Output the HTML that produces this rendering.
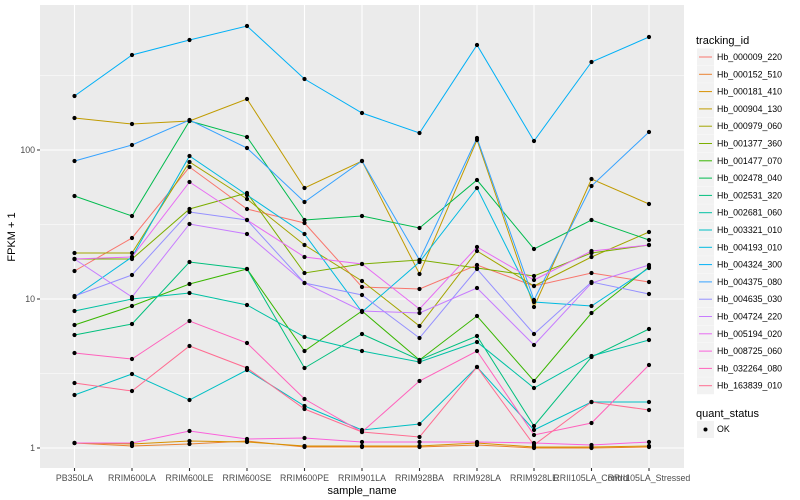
<!DOCTYPE html>
<html><head><meta charset="utf-8"><style>body{margin:0;background:#fff}svg{display:block}text{font-family:"Liberation Sans",sans-serif}</style></head>
<body>
<svg id="s" width="800" height="500" xmlns="http://www.w3.org/2000/svg">
<rect x="40" y="5" width="644" height="463" fill="#ebebeb"/>
<g stroke="#fff" stroke-width="0.5">
<line x1="40" x2="684" y1="373.5" y2="373.5"/><line x1="40" x2="684" y1="224.5" y2="224.5"/><line x1="40" x2="684" y1="75.5" y2="75.5"/>
</g>
<g stroke="#fff" stroke-width="1.1">
<line x1="40" x2="684" y1="448" y2="448"/><line x1="40" x2="684" y1="299" y2="299"/><line x1="40" x2="684" y1="150" y2="150"/>
</g>
<g id="vg" stroke="#fff" stroke-width="1.1"></g>
<g id="lines" fill="none" stroke-width="1"></g>
<g id="pts" fill="#000"></g>
<g font-size="8.8" fill="#4d4d4d" text-anchor="end">
<text x="35" y="451">1</text><text x="35" y="302">10</text><text x="35" y="153">100</text>
</g>
<g stroke="#333" stroke-width="1"><line x1="37" x2="40" y1="448" y2="448"/><line x1="37" x2="40" y1="299" y2="299"/><line x1="37" x2="40" y1="150" y2="150"/></g>
<g id="xl" font-size="8.8" fill="#4d4d4d" text-anchor="middle"></g>
<text x="362" y="494" font-size="11" text-anchor="middle" fill="#000">sample_name</text>
<text transform="translate(15,237) rotate(-90)" font-size="11" text-anchor="middle" fill="#000">FPKM + 1</text>
<text x="696" y="44" font-size="11" fill="#000">tracking_id</text>
<g id="leg" font-size="8.8" fill="#000"></g>
<text x="696" y="417" font-size="11" fill="#000">quant_status</text>
<rect x="697" y="421" width="17" height="17" fill="#f2f2f2"/>
<circle cx="705.5" cy="429.5" r="2" fill="#000"/>
<text x="717" y="432" font-size="8.8" fill="#000">OK</text>
</svg>
<script>
var X=[74.5,132,189.5,247,304.5,362,419.5,477,534,591.5,649];
var labs=["PB350LA","RRIM600LA","RRIM600LE","RRIM600SE","RRIM600PE","RRIM901LA","RRIM928BA","RRIM928LA","RRIM928LE","RRII105LA_Control","RRII105LA_Stressed"];
var S=[
["Hb_000009_220","#F8766D",[271,238,167,209,223,287,289,265,286,273,282]],
["Hb_000152_510","#EA8331",[443,446,444,441,447,447,447,445,448,448,447]],
["Hb_000181_410","#D89000",[443,444,441,442,446,446,446,443,447,447,446]],
["Hb_000904_130","#C09B00",[118,124,121,99,188,161,274,140,307,179,204]],
["Hb_000979_060","#A3A500",[253,253,162,199,245,281,326,251,286,257,232]],
["Hb_001377_360","#7CAE00",[259,259,209,193,273,264,260,268,276,253,245]],
["Hb_001477_070","#39B600",[325,306,284,269,351,311,360,316,381,313,267]],
["Hb_002478_040","#00BB4E",[196,216,121,137,220,216,228,180,249,220,240]],
["Hb_002531_320","#00BF7D",[335,324,262,269,368,334,360,336,426,357,329]],
["Hb_002681_060","#00C1A3",[311,299,293,305,337,351,362,342,388,356,340]],
["Hb_003321_010","#00BFC4",[395,374,400,370,406,430,424,367,430,402,402]],
["Hb_004193_010","#00BAE0",[297,257,156,195,234,312,262,188,302,306,268]],
["Hb_004324_300","#00B0F6",[96,55,40,26,79,113,133,45,141,62,37]],
["Hb_004375_080","#35A2FF",[161,145,120,148,202,161,260,138,300,186,132]],
["Hb_004635_030","#9590FF",[296,275,212,220,283,295,338,269,334,282,294]],
["Hb_004724_220","#C77CFF",[259,297,224,234,283,311,313,288,345,283,265]],
["Hb_005194_020","#E76BF3",[259,257,182,220,257,264,309,247,280,251,245]],
["Hb_008725_060","#FA62DB",[443,443,431,439,438,442,442,442,443,445,442]],
["Hb_032264_080","#FF62BC",[353,359,321,343,399,432,381,351,435,423,365]],
["Hb_163839_010","#FF6C91",[383,391,346,368,409,432,437,367,445,402,410]]];
var ns="http://www.w3.org/2000/svg";
function el(t,a,p){var e=document.createElementNS(ns,t);for(var k in a)e.setAttribute(k,a[k]);document.getElementById(p).appendChild(e);return e;}
X.forEach(function(x,i){el("line",{x1:x,x2:x,y1:5,y2:468},"vg");el("line",{x1:x,x2:x,y1:468,y2:471,stroke:"#333"},"vg");var t=el("text",{x:x,y:481},"xl");t.textContent=labs[i];});
S.forEach(function(s,j){var d=s[2].map(function(y,i){return X[i]+","+y}).join(" ");
el("polyline",{points:d,stroke:s[1]},"lines");
s[2].forEach(function(y,i){el("circle",{cx:X[i],cy:y,r:2.1},"pts");});
var cy=57+j*17.3;el("rect",{x:697,y:cy-8.5,width:17,height:17,fill:"#f2f2f2"},"leg");
el("line",{x1:699,x2:712,y1:cy,y2:cy,stroke:s[1],"stroke-width":1},"leg");
var t=el("text",{x:717,y:cy+3},"leg");t.textContent=s[0];});
</script>
</body></html>
